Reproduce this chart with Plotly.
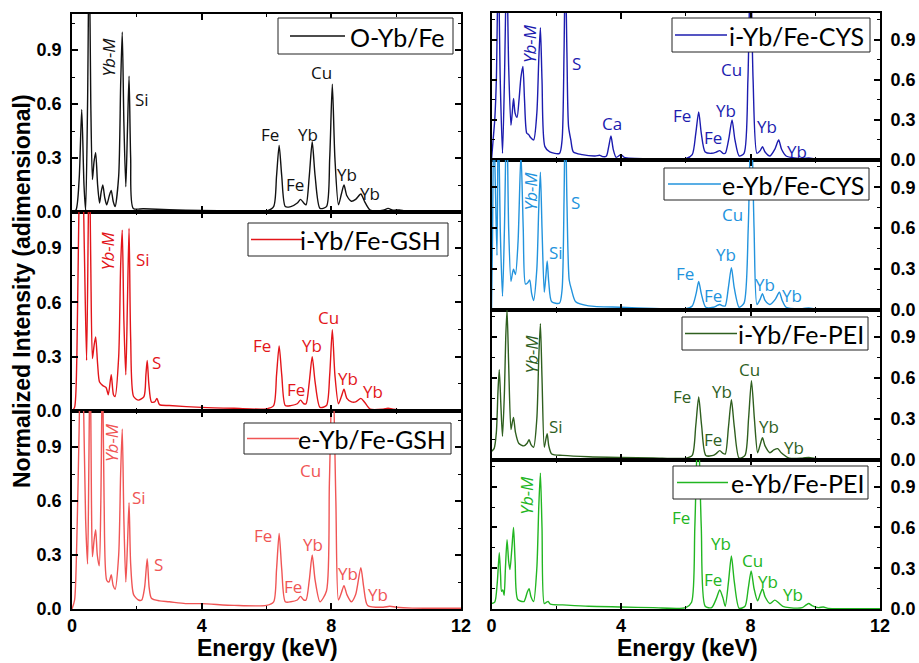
import plotly.graph_objects as go

# ---------------- data ----------------
o_e = [0.00, 0.12, 0.22, 0.30, 0.37, 0.42, 0.48, 0.53, 0.58, 0.63, 0.68, 0.73, 0.79, 0.85, 0.90, 0.95, 1.01, 1.07, 1.15, 1.21, 1.27, 1.33, 1.44, 1.50, 1.55, 1.60, 1.66, 1.71, 1.76, 1.81, 1.89, 2.2, 3.0, 4.0, 5.0, 6.0, 6.22, 6.31, 6.39, 6.47, 6.58, 6.75, 6.95, 7.05, 7.15, 7.22, 7.32, 7.41, 7.50, 7.65, 7.85, 7.95, 8.03, 8.11, 8.22, 8.31, 8.39, 8.48, 8.62, 8.75, 8.91, 9.02, 9.2, 9.6, 9.75, 9.9, 10.1, 10.3, 11.0, 12.0]
o_i = [0.0, 0.01, 0.18, 0.57, 0.15, 0.01, 0.6, 1.5, 0.6, 0.18, 0.28, 0.33, 0.15, 0.05, 0.11, 0.15, 0.08, 0.04, 0.09, 0.12, 0.06, 0.03, 0.2, 0.7, 1.0, 0.5, 0.14, 0.45, 0.755, 0.3, 0.02, 0.018, 0.013, 0.008, 0.006, 0.006, 0.03, 0.2, 0.37, 0.2, 0.03, 0.03, 0.05, 0.07, 0.05, 0.04, 0.2, 0.39, 0.2, 0.02, 0.03, 0.3, 0.71, 0.3, 0.04, 0.1, 0.15, 0.09, 0.06, 0.07, 0.10, 0.06, 0.01, 0.01, 0.02, 0.01, 0.012, 0.004, 0.003, 0.002]

igsh_e = [0.0, 0.08, 0.15, 0.22, 0.30, 0.38, 0.45, 0.50, 0.53, 0.58, 0.63, 0.68, 0.73, 0.79, 0.85, 0.95, 1.05, 1.12, 1.21, 1.28, 1.33, 1.44, 1.50, 1.55, 1.60, 1.66, 1.71, 1.76, 1.81, 1.90, 2.05, 2.22, 2.28, 2.32, 2.37, 2.45, 2.55, 2.62, 2.70, 3.0, 4.0, 5.0, 6.0, 6.22, 6.31, 6.39, 6.47, 6.58, 6.75, 6.95, 7.05, 7.15, 7.22, 7.32, 7.41, 7.50, 7.65, 7.85, 7.95, 8.03, 8.11, 8.22, 8.31, 8.39, 8.48, 8.62, 8.75, 8.91, 9.02, 9.2, 9.6, 9.75, 9.9, 10.3, 12.0]
igsh_i = [0.0, 0.02, 0.3, 1.2, 1.6, 0.9, 0.28, 1.0, 1.5, 0.8, 0.29, 0.36, 0.41, 0.26, 0.16, 0.14, 0.13, 0.09, 0.20, 0.09, 0.08, 0.3, 0.8, 1.0, 0.5, 0.2, 0.6, 1.01, 0.4, 0.08, 0.06, 0.08, 0.2, 0.28, 0.15, 0.05, 0.05, 0.07, 0.035, 0.03, 0.02, 0.015, 0.012, 0.03, 0.2, 0.36, 0.2, 0.03, 0.03, 0.04, 0.06, 0.04, 0.04, 0.16, 0.30, 0.16, 0.02, 0.03, 0.2, 0.45, 0.2, 0.04, 0.08, 0.12, 0.07, 0.05, 0.05, 0.07, 0.05, 0.01, 0.01, 0.015, 0.01, 0.005, 0.003]

egsh_e = [0.0, 0.08, 0.15, 0.22, 0.28, 0.35, 0.42, 0.48, 0.52, 0.56, 0.60, 0.63, 0.68, 0.73, 0.78, 0.84, 0.89, 0.94, 0.99, 1.07, 1.14, 1.21, 1.27, 1.33, 1.44, 1.50, 1.55, 1.60, 1.66, 1.71, 1.76, 1.81, 1.90, 2.05, 2.15, 2.24, 2.32, 2.38, 2.45, 2.7, 3.0, 3.5, 4.0, 5.0, 6.0, 6.22, 6.31, 6.39, 6.47, 6.58, 6.75, 6.95, 7.05, 7.15, 7.22, 7.32, 7.41, 7.50, 7.65, 7.85, 7.94, 8.04, 8.14, 8.22, 8.31, 8.39, 8.48, 8.62, 8.75, 8.91, 9.0, 9.12, 9.6, 9.8, 10.0, 10.5, 12.0]
egsh_i = [0.0, 0.05, 0.39, 1.0, 1.6, 1.2, 0.5, 0.25, 0.8, 1.5, 0.6, 0.29, 0.38, 0.44, 0.3, 0.24, 0.6, 1.4, 0.6, 0.16, 0.15, 0.19, 0.13, 0.11, 0.3, 0.75, 1.0, 0.5, 0.15, 0.35, 0.59, 0.25, 0.08, 0.05, 0.05, 0.12, 0.28, 0.12, 0.06, 0.045, 0.04, 0.03, 0.03, 0.02, 0.02, 0.04, 0.22, 0.42, 0.22, 0.04, 0.04, 0.05, 0.07, 0.05, 0.05, 0.16, 0.30, 0.16, 0.04, 0.1, 0.7, 1.4, 0.6, 0.05, 0.09, 0.13, 0.08, 0.04, 0.08, 0.23, 0.12, 0.02, 0.01, 0.015, 0.01, 0.005, 0.004]

icys_e = [0.0, 0.05, 0.10, 0.15, 0.21, 0.27, 0.34, 0.40, 0.47, 0.53, 0.60, 0.64, 0.68, 0.73, 0.79, 0.85, 0.91, 0.97, 1.02, 1.09, 1.15, 1.20, 1.30, 1.40, 1.46, 1.51, 1.56, 1.65, 1.8, 2.1, 2.18, 2.24, 2.28, 2.33, 2.38, 2.45, 2.53, 2.8, 3.2, 3.35, 3.45, 3.55, 3.62, 3.69, 3.76, 3.85, 4.0, 4.1, 5.0, 6.0, 6.2, 6.31, 6.40, 6.48, 6.6, 6.8, 6.95, 7.05, 7.15, 7.22, 7.33, 7.43, 7.52, 7.65, 7.8, 7.92, 8.0, 8.08, 8.2, 8.30, 8.37, 8.45, 8.60, 8.75, 8.87, 8.96, 9.1, 9.6, 9.8, 10.0, 11.0, 12.0]
icys_i = [0.0, 0.15, 0.3, 0.6, 1.5, 0.6, 0.05, 0.6, 1.5, 0.7, 0.26, 0.35, 0.46, 0.35, 0.32, 0.45, 0.62, 0.7, 0.45, 0.20, 0.19, 0.17, 0.15, 0.35, 0.75, 0.99, 0.6, 0.10, 0.06, 0.05, 0.15, 0.8, 1.5, 0.8, 0.25, 0.15, 0.06, 0.04, 0.03, 0.035, 0.025, 0.03, 0.1, 0.18, 0.08, 0.02, 0.04, 0.02, 0.01, 0.01, 0.04, 0.2, 0.36, 0.2, 0.06, 0.05, 0.06, 0.07, 0.05, 0.05, 0.16, 0.30, 0.15, 0.03, 0.05, 0.6, 1.5, 0.6, 0.05, 0.07, 0.10, 0.06, 0.03, 0.08, 0.15, 0.08, 0.03, 0.01, 0.015, 0.008, 0.004, 0.003]

ecys_e = [0.0, 0.03, 0.07, 0.12, 0.17, 0.21, 0.27, 0.34, 0.40, 0.47, 0.53, 0.60, 0.64, 0.68, 0.74, 0.82, 0.91, 0.98, 1.05, 1.12, 1.18, 1.24, 1.30, 1.40, 1.46, 1.51, 1.56, 1.63, 1.68, 1.72, 1.77, 1.86, 2.1, 2.18, 2.24, 2.28, 2.33, 2.40, 2.47, 2.6, 3.0, 4.0, 5.0, 6.0, 6.2, 6.32, 6.40, 6.48, 6.62, 6.85, 6.95, 7.05, 7.15, 7.22, 7.32, 7.41, 7.50, 7.65, 7.8, 7.93, 8.02, 8.11, 8.2, 8.30, 8.37, 8.45, 8.60, 8.77, 8.89, 8.98, 9.1, 9.6, 9.8, 10.0, 11.0, 12.0]
ecys_i = [0.0, 0.5, 1.4, 0.9, 0.4, 1.5, 0.6, 0.10, 0.6, 1.5, 0.6, 0.21, 0.26, 0.30, 0.26, 0.5, 1.15, 0.6, 0.19, 0.2, 0.22, 0.12, 0.07, 0.3, 0.75, 1.01, 0.6, 0.13, 0.25, 0.36, 0.2, 0.06, 0.05, 0.15, 0.8, 1.5, 0.8, 0.22, 0.15, 0.06, 0.03, 0.02, 0.012, 0.01, 0.03, 0.12, 0.21, 0.12, 0.02, 0.02, 0.03, 0.04, 0.03, 0.03, 0.17, 0.31, 0.16, 0.02, 0.05, 0.6, 1.5, 0.6, 0.04, 0.08, 0.12, 0.07, 0.04, 0.08, 0.13, 0.07, 0.02, 0.01, 0.015, 0.008, 0.004, 0.003]

ipei_e = [0.0, 0.08, 0.15, 0.20, 0.24, 0.29, 0.34, 0.40, 0.44, 0.48, 0.53, 0.60, 0.64, 0.68, 0.74, 0.84, 1.0, 1.10, 1.16, 1.22, 1.30, 1.40, 1.46, 1.51, 1.56, 1.63, 1.68, 1.72, 1.77, 1.86, 2.2, 3.0, 4.0, 5.0, 6.0, 6.2, 6.31, 6.40, 6.49, 6.62, 6.85, 6.95, 7.05, 7.15, 7.22, 7.32, 7.41, 7.50, 7.65, 7.83, 7.94, 8.03, 8.12, 8.22, 8.30, 8.37, 8.45, 8.60, 8.72, 8.84, 8.95, 9.2, 9.6, 9.8, 10.0, 11.0, 12.0]
ipei_i = [0.06, 0.08, 0.2, 0.5, 0.66, 0.4, 0.17, 0.5, 0.9, 1.10, 0.7, 0.22, 0.27, 0.31, 0.2, 0.12, 0.10, 0.12, 0.145, 0.11, 0.09, 0.3, 0.75, 1.0, 0.6, 0.09, 0.15, 0.19, 0.1, 0.04, 0.03, 0.02, 0.015, 0.012, 0.01, 0.03, 0.25, 0.46, 0.25, 0.03, 0.03, 0.045, 0.065, 0.045, 0.04, 0.24, 0.44, 0.24, 0.01, 0.03, 0.3, 0.58, 0.3, 0.05, 0.11, 0.16, 0.1, 0.05, 0.07, 0.08, 0.05, 0.01, 0.01, 0.015, 0.008, 0.004, 0.003]

epei_e = [0.0, 0.10, 0.18, 0.24, 0.28, 0.31, 0.35, 0.39, 0.43, 0.48, 0.53, 0.57, 0.63, 0.68, 0.73, 0.81, 1.0, 1.10, 1.16, 1.22, 1.30, 1.40, 1.46, 1.51, 1.56, 1.63, 1.70, 1.75, 1.82, 2.2, 3.0, 4.0, 5.0, 6.0, 6.18, 6.28, 6.38, 6.48, 6.6, 6.8, 6.95, 7.05, 7.15, 7.22, 7.32, 7.41, 7.50, 7.65, 7.83, 7.93, 8.02, 8.11, 8.22, 8.30, 8.37, 8.45, 8.60, 8.75, 8.85, 9.0, 9.2, 9.6, 9.72, 9.8, 9.9, 10.1, 10.25, 10.4, 11.0, 12.0]
epei_i = [0.04, 0.05, 0.2, 0.415, 0.25, 0.13, 0.14, 0.10, 0.3, 0.51, 0.35, 0.29, 0.45, 0.60, 0.35, 0.07, 0.055, 0.12, 0.15, 0.09, 0.055, 0.3, 0.75, 1.0, 0.6, 0.04, 0.05, 0.055, 0.035, 0.03, 0.02, 0.015, 0.01, 0.01, 0.05, 0.6, 1.4, 0.6, 0.02, 0.01, 0.08, 0.14, 0.08, 0.02, 0.2, 0.39, 0.2, 0.005, 0.02, 0.15, 0.28, 0.15, 0.06, 0.11, 0.15, 0.09, 0.04, 0.065, 0.05, 0.02, 0.01, 0.01, 0.03, 0.04, 0.025, 0.01, 0.015, 0.005, 0.003, 0.002]

names = ["O-Yb/Fe", "i-Yb/Fe-GSH", "e-Yb/Fe-GSH", "i-Yb/Fe-CYS", "e-Yb/Fe-CYS", "i-Yb/Fe-PEI", "e-Yb/Fe-PEI"]
colors = ["#111111", "#e3151a", "#f05555", "#1c1caf", "#2293dd", "#2f5f1f", "#22b622"]
series_e = [o_e, igsh_e, egsh_e, icys_e, ecys_e, ipei_e, epei_e]
series_i = [o_i, igsh_i, egsh_i, icys_i, ecys_i, ipei_i, epei_i]

# peak labels: (text, energy, intensity) per panel
labels = [
    [("Yb-M", 1.12, 0.86), ("Si", 2.15, 0.625), ("Fe", 6.10, 0.43), ("Fe", 6.87, 0.155), ("Yb", 7.28, 0.43), ("Cu", 7.71, 0.775), ("Yb", 8.48, 0.21), ("Yb", 9.2, 0.105)],
    [("Yb-M", 1.12, 0.885), ("Si", 2.18, 0.84), ("S", 2.61, 0.27), ("Fe", 5.85, 0.36), ("Fe", 6.90, 0.12), ("Yb", 7.41, 0.36), ("Cu", 7.90, 0.515), ("Yb", 8.52, 0.18), ("Yb", 9.29, 0.107)],
    [("Yb-M", 1.22, 0.925), ("Si", 2.07, 0.62), ("S", 2.66, 0.25), ("Fe", 5.88, 0.41), ("Fe", 6.82, 0.125), ("Yb", 7.44, 0.36), ("Cu", 7.36, 0.77), ("Yb", 8.52, 0.20), ("Yb", 9.44, 0.08)],
    [("Yb-M", 1.17, 0.87), ("S", 2.61, 0.72), ("Ca", 3.72, 0.27), ("Fe", 5.89, 0.33), ("Fe", 6.83, 0.166), ("Yb", 7.23, 0.37), ("Cu", 7.40, 0.68), ("Yb", 8.52, 0.25), ("Yb", 9.44, 0.06)],
    [("Yb-M", 1.19, 0.87), ("S", 2.59, 0.79), ("Si", 2.0, 0.42), ("Fe", 5.99, 0.27), ("Fe", 6.83, 0.11), ("Yb", 7.23, 0.41), ("Cu", 7.43, 0.70), ("Yb", 8.46, 0.19), ("Yb", 9.29, 0.11)],
    [("Yb-M", 1.25, 0.78), ("Si", 1.99, 0.24), ("Fe", 5.89, 0.46), ("Fe", 6.83, 0.15), ("Yb", 7.12, 0.50), ("Cu", 7.98, 0.66), ("Yb", 8.57, 0.24), ("Yb", 9.34, 0.09)],
    [("Yb-M", 1.09, 0.84), ("Fe", 5.85, 0.67), ("Yb", 7.09, 0.48), ("Fe", 6.83, 0.22), ("Cu", 8.05, 0.36), ("Yb", 8.53, 0.20), ("Yb", 9.32, 0.11)],
]

x_ticks = [0, 4, 8, 12]
y_ticks = [0.0, 0.3, 0.6, 0.9]

# ---------------- layout geometry (pixels) ----------------
W, H = 919, 663
left_x = (72, 461)
right_x = (491.5, 880)
left_rows = [(14, 212), (212, 411), (411, 609)]
right_rows = [(13, 160), (160, 310), (310, 459.5), (459.5, 609)]
# legend boxes: (left, top, right, bottom, line_start, line_end, text_right)
legend_boxes = [
    (278, 18, 453, 54, 290, 345, 447),
    (248, 223, 448, 256, 251, 303, 443),
    (244, 423, 451, 454, 247, 299, 448),
    (672, 18, 870, 52, 675, 727, 866),
    (664, 168, 869, 200, 668, 721, 866),
    (682, 317, 868, 350, 685, 737, 866),
    (673, 466, 868, 499, 677, 728, 866),
]

fig = go.Figure()
tickfont = dict(family="Liberation Sans, Arial", size=18, color="black", weight="bold")

for k in range(7):
    if k < 3:
        xs, (t, b), side = left_x, left_rows[k], "left"
        bottom = k == 2
    else:
        xs, (t, b), side = right_x, right_rows[k - 3], "right"
        bottom = k == 6
    sfx = "" if k == 0 else str(k + 1)
    xa, ya = "x" + sfx, "y" + sfx
    fig.add_trace(go.Scatter(
        x=series_e[k], y=series_i[k], mode="lines", name=names[k],
        line=dict(color=colors[k], width=1.4, shape="spline", smoothing=0.7),
        xaxis=xa, yaxis=ya, showlegend=False))
    common = dict(showline=True, linecolor="black", linewidth=1.6, mirror="allticks",
                  showgrid=False, zeroline=False, ticks="inside", ticklen=6, tickwidth=1.5,
                  tickcolor="black", tickfont=tickfont, automargin=False)
    fig.layout["xaxis" + sfx] = dict(
        domain=[xs[0] / W, xs[1] / W], anchor=ya, range=[0, 12],
        tickvals=x_ticks, showticklabels=bottom,
        minor=dict(dtick=2, tick0=0, ticks="inside", ticklen=3.5, tickwidth=1.2, tickcolor="black"),
        **common)
    fig.layout["yaxis" + sfx] = dict(
        domain=[1 - b / H, 1 - t / H], anchor=xa, range=[0, 1.1], side=side,
        tickvals=y_ticks, tickformat=".1f", ticklabelstandoff=5,
        minor=dict(dtick=0.15, tick0=0, ticks="inside", ticklen=3.5, tickwidth=1.2, tickcolor="black"),
        **common)

    # legend box drawn as a framed key
    l, tp, r, bt, ls, le, tr = legend_boxes[k]
    cy = (tp + bt) / 2
    fig.add_shape(type="rect", xref="paper", yref="paper", x0=l / W, x1=r / W,
                  y0=1 - bt / H, y1=1 - tp / H, line=dict(color="#222222", width=1),
                  fillcolor="white", layer="above")
    fig.add_shape(type="line", xref="paper", yref="paper", x0=ls / W, x1=le / W,
                  y0=1 - cy / H, y1=1 - cy / H, line=dict(color=colors[k], width=1.6),
                  layer="above")
    fig.add_annotation(x=tr / W, y=1 - (cy + 0.5) / H, xref="paper", yref="paper", text=names[k],
                       showarrow=False, xanchor="right", yanchor="middle",
                       font=dict(family="Lato", size=25, color="black"))

    for (txt, ex, iy) in labels[k]:
        if txt == "Yb-M":
            fig.add_annotation(x=ex, y=iy, xref=xa, yref=ya, text=txt, showarrow=False,
                               textangle=-90,
                               font=dict(family="Open Sans", size=17, color=colors[k], style="italic"))
        else:
            fig.add_annotation(x=ex, y=iy, xref=xa, yref=ya, text=txt, showarrow=False,
                               font=dict(family="Open Sans", size=17, color=colors[k]))

titlefont = dict(family="Liberation Sans, Arial", size=23, color="black", weight="bold")
fig.add_annotation(x=22 / W, y=1 - 291 / H, xref="paper", yref="paper", text="Normalized Intensity (adimensional)",
                   textangle=-90, showarrow=False, xanchor="center", yanchor="middle", font=titlefont)
fig.add_annotation(x=267 / W, y=1 - 648 / H, xref="paper", yref="paper", text="Energy (keV)",
                   showarrow=False, xanchor="center", yanchor="middle", font=titlefont)
fig.add_annotation(x=687 / W, y=1 - 648 / H, xref="paper", yref="paper", text="Energy (keV)",
                   showarrow=False, xanchor="center", yanchor="middle", font=titlefont)

fig.update_layout(width=W, height=H, margin=dict(l=0, r=0, t=0, b=0),
                  paper_bgcolor="white", plot_bgcolor="white")
fig.write_html("out.html", config={"displayModeBar": False},
               post_script="document.body.style.margin='0px';")
